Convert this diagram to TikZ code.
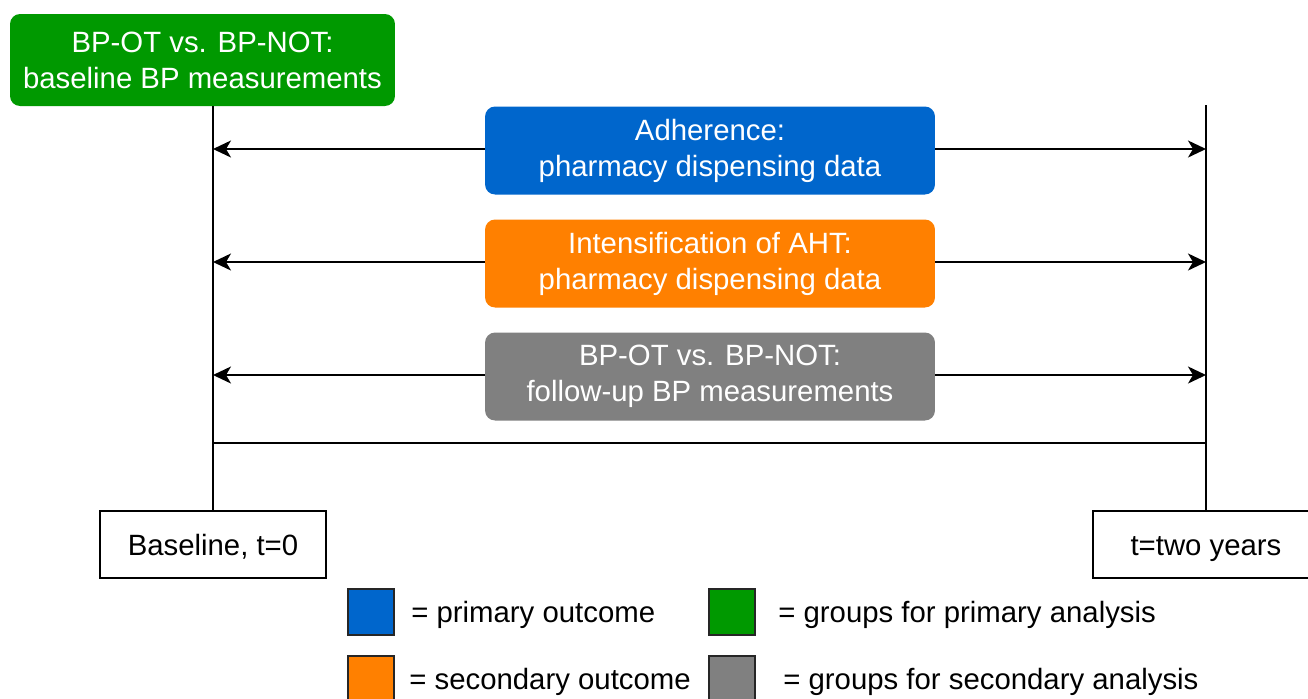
\documentclass[tikz,border=0pt]{standalone}
\usepackage{fontspec}
\setmainfont{Liberation Sans}
\definecolor{grgreen}{RGB}{0, 153, 0}
\definecolor{oblue}{RGB}{0, 102, 204}
\definecolor{oorange}{RGB}{255, 128, 0}
\definecolor{ggrey}{RGB}{128, 128, 128}
\usepackage{tikz}
\usetikzlibrary{arrows.meta, positioning, calc}

\begin{document}
\begin{tikzpicture}[x = 0.02cm, y = -0.02cm,
        every node/.style = {font = \fontsize{16.7}{20.5}\selectfont},
        line/.style = {draw = black, line width = 1.1pt},
        arr/.style = {line, -{Stealth[length = 0.36cm, width = 0.34cm, inset = 0.1cm]}},
        phase/.style = {rectangle, rounded corners = 0.2cm, text = white, align = center, minimum width = 9cm, minimum height = 1.76cm},
        timebox/.style = {rectangle, line, fill = white, minimum width = 4.52cm, minimum height = 1.34cm, text height = 12pt, text depth = 0pt},
        key/.style = {rectangle, draw = black!85, line width = 1.1pt, minimum size = 0.92cm, inner sep = 0pt},
        keytext/.style = {anchor = west, inner sep = 0pt, text height = 12pt, text depth = 0pt}]

        \useasboundingbox (0, 0) rectangle (1308, 698);

        % groups at baseline
        \node (groups) [rectangle, rounded corners = 0.2cm, fill = grgreen, text = white, align = center, minimum width = 7.7cm, minimum height = 1.84cm] at (202.5, 60) {BP-OT vs. BP-NOT:\\baseline BP measurements};

        % the two time points
        \node (start) [timebox] at (213, 544.5) {Baseline, t=0};
        \node (stop) [timebox] at (1206, 544.5) {t=two years};

        \draw [line] (start.north) -- (start.north |- groups.south);
        \draw [line] (stop.north) -- ($(stop.north |- groups.south) + (0, -1)$);

        % outcomes measured over the follow-up
        \node (adherence) [phase, fill = oblue] at (710, 150.5) {Adherence:\\pharmacy dispensing data};
        \node (intens) [phase, fill = oorange] at (710, 263.5) {Intensification of AHT:\\pharmacy dispensing data};
        \node (followup) [phase, fill = ggrey] at (710, 376.5) {BP-OT vs. BP-NOT:\\follow-up BP measurements};

        \foreach \o in {adherence, intens, followup}
        {
            \draw [arr] ($(\o.west) + (0, -1.5)$) -- ($(\o.west -| start.north) + (0, -1.5)$);
            \draw [arr] ($(\o.east) + (0, -1.5)$) -- ($(\o.east -| stop.north) + (0, -1.5)$);
        }

        \coordinate (span) at (710, 443);
        \draw [line] (span -| start.north) -- (span -| stop.north);

        % legend
        \node (kblue) [key, fill = oblue] at (371, 612) {};
        \node (korange) [key, fill = oorange] at (371, 679) {};
        \node (kgreen) [key, fill = grgreen] at (732, 612) {};
        \node (kgrey) [key, fill = ggrey] at (732, 679) {};

        \node (tblue) [keytext] at (411, 612) {= primary outcome};
        \node (torange) [keytext] at (409, 679) {= secondary outcome};
        \node (tgreen) [keytext] at (778, 612) {= groups for primary analysis};
        \node (tgrey) [keytext] at (783, 679) {= groups for secondary analysis};
    \end{tikzpicture}
\end{document}
